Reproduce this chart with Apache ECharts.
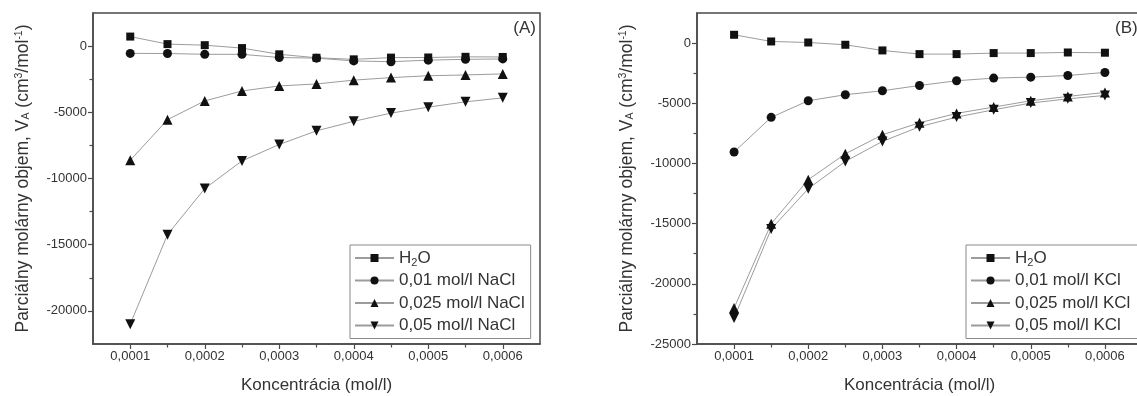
<!DOCTYPE html>
<html>
<head>
<meta charset="utf-8">
<script src="https://cdn.jsdelivr.net/npm/echarts@6/dist/echarts.min.js"></script>
<style>
html,body{margin:0;padding:0;background:#fff;}
#chart{width:1137px;height:396px;}
</style>
</head>
<body>
<div id="chart"></div>
<script>
// ---- data ----
const xValues = [0.0001, 0.00015, 0.0002, 0.00025, 0.0003, 0.00035, 0.0004, 0.00045, 0.0005, 0.00055, 0.0006];

const h2oA     = [720, 150, 70, -150, -620, -880, -1000, -870, -860, -810, -820];
const nacl001  = [-550, -560, -620, -620, -860, -910, -1120, -1180, -1060, -1000, -970];
const nacl0025 = [-8620, -5560, -4140, -3390, -3010, -2860, -2570, -2380, -2240, -2180, -2100];
const nacl005  = [-21000, -14240, -10760, -8670, -7430, -6400, -5680, -5060, -4610, -4210, -3910];

const h2oB     = [690, 135, 50, -140, -610, -915, -915, -830, -830, -780, -800];
const kcl001   = [-9050, -6170, -4790, -4290, -3960, -3520, -3130, -2910, -2830, -2690, -2440];
const kcl0025  = [-22010, -15010, -11350, -9200, -7620, -6620, -5840, -5320, -4790, -4430, -4100];
const kcl005   = [-22840, -15450, -12100, -9830, -8170, -6950, -6150, -5540, -4980, -4630, -4350];

const xTicks = [0.0001, 0.0002, 0.0003, 0.0004, 0.0005, 0.0006];
const xMinorTicks = [0.00015, 0.00025, 0.00035, 0.00045, 0.00055];
const yTicksA = [-20000, -15000, -10000, -5000, 0];
const yMinorA = [-17500, -12500, -7500, -2500];
const yTicksB = [-25000, -20000, -15000, -10000, -5000, 0];
const yMinorB = [-22500, -17500, -12500, -7500, -2500];

const namesA = ['A_h2o', 'A_001', 'A_0025', 'A_005'];
const namesB = ['B_h2o', 'B_001', 'B_0025', 'B_005'];
const legendLabels = {
  A_h2o: 'H{sub|2}O', A_001: '0,01 mol/l NaCl', A_0025: '0,025 mol/l NaCl', A_005: '0,05 mol/l NaCl',
  B_h2o: 'H{sub|2}O', B_001: '0,01 mol/l KCl', B_0025: '0,025 mol/l KCl', B_005: '0,05 mol/l KCl'
};
const xTitle = 'Koncentrácia (mol/l)';
const yTitle = 'Parciálny molárny objem, V{sub|A} (cm{sup|3}/mol{sup|-1})';

// ---- chart ----
const FONT = "'Liberation Sans', Arial, sans-serif";
const TXT = '#333';
const FRAME = '#4a4a4a';

const richText = {
  sub: {fontSize: 10.5, fontFamily: FONT, color: TXT, verticalAlign: 'bottom', lineHeight: 10},
  sup: {fontSize: 10.5, fontFamily: FONT, color: TXT, verticalAlign: 'top', lineHeight: 10}
};

function mainX(gi) {
  return {
    type: 'value', gridIndex: gi, min: 0.00005, max: 0.00065, position: 'bottom',
    name: xTitle, nameLocation: 'middle', nameGap: 33,
    nameTextStyle: {fontSize: 17, fontFamily: FONT, color: TXT},
    axisLine: {show: true, onZero: false, lineStyle: {color: FRAME, width: 1.5}},
    axisTick: {show: true, inside: false, length: 5, customValues: xTicks, lineStyle: {color: FRAME, width: 1.2}},
    axisLabel: {show: true, customValues: xTicks, margin: 6, fontSize: 13, fontFamily: FONT, color: TXT,
      formatter: v => v.toFixed(4).replace('.', ',')},
    splitLine: {show: false}
  };
}
function minorX(gi) {
  return {
    type: 'value', gridIndex: gi, min: 0.00005, max: 0.00065, position: 'bottom',
    axisLine: {show: true, onZero: false, lineStyle: {color: FRAME, width: 1, opacity: 0}},
    axisTick: {show: true, inside: false, length: 3.5, customValues: xMinorTicks, lineStyle: {color: FRAME, width: 1.2, opacity: 1}},
    axisLabel: {show: false}, splitLine: {show: false}
  };
}
function mainY(gi, min, ticks) {
  return {
    type: 'value', gridIndex: gi, min: min, max: 2500, position: 'left',
    name: yTitle, nameLocation: 'middle', nameGap: 61, nameRotate: 90,
    nameTextStyle: {fontSize: 17.5, fontFamily: FONT, color: TXT, rich: richText},
    axisLine: {show: true, onZero: false, lineStyle: {color: FRAME, width: 1.5}},
    axisTick: {show: true, inside: false, length: 5, customValues: ticks, lineStyle: {color: FRAME, width: 1.2}},
    axisLabel: {show: true, customValues: ticks, margin: 6, fontSize: 13, fontFamily: FONT, color: TXT,
      formatter: v => String(Math.round(v))},
    splitLine: {show: false}
  };
}
function minorY(gi, min, ticks) {
  return {
    type: 'value', gridIndex: gi, min: min, max: 2500, position: 'left',
    axisLine: {show: true, onZero: false, lineStyle: {color: FRAME, width: 1, opacity: 0}},
    axisTick: {show: true, inside: false, length: 3.5, customValues: ticks, lineStyle: {color: FRAME, width: 1.2, opacity: 1}},
    axisLabel: {show: false}, splitLine: {show: false}
  };
}

const markers = [
  {symbol: 'rect', size: 8, rotate: 0},
  {symbol: 'circle', size: 9, rotate: 0},
  {symbol: 'triangle', size: 10, rotate: 0},
  {symbol: 'triangle', size: 10, rotate: 180}
];

function makeSeries(name, values, k, gi) {
  return {
    type: 'line', name: name, xAxisIndex: gi, yAxisIndex: gi,
    data: xValues.map((x, i) => [x, values[i]]),
    symbol: markers[k].symbol, symbolSize: markers[k].size, symbolRotate: markers[k].rotate,
    showAllSymbol: true,
    lineStyle: {color: '#9c9c9c', width: 1},
    itemStyle: {color: '#111', borderWidth: 0},
    emphasis: {disabled: true},
    animation: false
  };
}

const seriesA = [h2oA, nacl001, nacl0025, nacl005].map((d, k) => makeSeries(namesA[k], d, k, 0));
const seriesB = [h2oB, kcl001, kcl0025, kcl005].map((d, k) => makeSeries(namesB[k], d, k, 1));

function makeLegend(names, left, padRight) {
  return {
    data: names, orient: 'vertical', left: left, top: 245,
    backgroundColor: '#fff', borderColor: '#8a8a8a', borderWidth: 1,
    padding: [3, padRight, 3, 4], itemGap: 2.5, itemWidth: 39, itemHeight: 10,
    selectedMode: false,
    textStyle: {fontSize: 17, fontFamily: FONT, color: TXT, lineHeight: 20, rich: {
      sub: {fontSize: 11, fontFamily: FONT, color: TXT, verticalAlign: 'bottom', lineHeight: 10}
    }},
    formatter: n => legendLabels[n]
  };
}

const gridA = {left: 93, top: 13, width: 447, height: 331};
const gridB = {left: 697, top: 13, width: 445, height: 331};
const gridBase = {containLabel: false, outerBoundsMode: 'none'};

const option = {
  backgroundColor: '#fff',
  animation: false,
  grid: [
    Object.assign({show: true, borderColor: FRAME, borderWidth: 1.5, backgroundColor: 'transparent'}, gridBase, gridA),
    Object.assign({show: true, borderColor: FRAME, borderWidth: 1.5, backgroundColor: 'transparent'}, gridBase, gridB),
    Object.assign({show: false}, gridBase, gridA),
    Object.assign({show: false}, gridBase, gridB)
  ],
  xAxis: [mainX(0), mainX(1), minorX(2), minorX(3)],
  yAxis: [mainY(0, -22500, yTicksA), mainY(1, -25000, yTicksB), minorY(2, -22500, yMinorA), minorY(3, -25000, yMinorB)],
  legend: [makeLegend(namesA, 350, 6), makeLegend(namesB, 966, 14)],
  graphic: [
    {type: 'text', right: 1137 - 536, top: 20, style: {text: '(A)', fontSize: 17, fontFamily: FONT, fill: TXT}},
    {type: 'text', left: 1115, top: 20, style: {text: '(B)', fontSize: 17, fontFamily: FONT, fill: TXT}}
  ],
  series: seriesA.concat(seriesB)
};

const chart = echarts.init(document.getElementById('chart'), null, {renderer: 'canvas'});
chart.setOption(option);
</script>
</body>
</html>
